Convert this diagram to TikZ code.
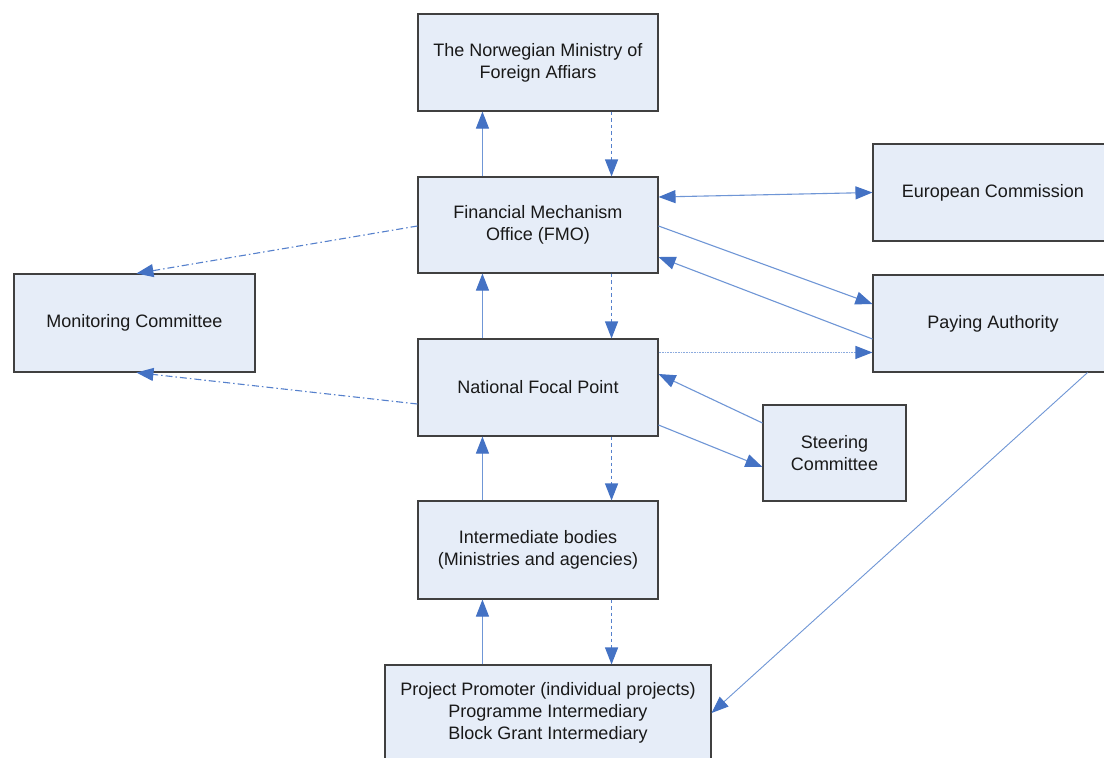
\documentclass[tikz,border=0pt]{standalone}
\usepackage{fontspec}
\setmainfont{Liberation Sans}
\usetikzlibrary{arrows.meta,calc}
\definecolor{boxfill}{HTML}{E6EDF8}
\definecolor{boxdraw}{HTML}{404040}
\definecolor{lineblue}{HTML}{6F96D6}
\definecolor{dashblue}{HTML}{5580CC}
\definecolor{headblue}{HTML}{4472C4}
\tikzset{
  orgbox/.style={draw=boxdraw, line width=1.1pt, fill=boxfill, align=center,
    font=\fontsize{18}{22}\selectfont, text=black!90, inner sep=0pt},
  conn/.style={draw=lineblue, line width=1.1pt,
    -{Triangle[length=17pt,width=13pt,color=headblue]}},
  biconn/.style={draw=lineblue, line width=1.1pt,
    {Triangle[length=17pt,width=13pt,color=headblue]}-{Triangle[length=17pt,width=13pt,color=headblue]}},
  dashconn/.style={conn, draw=dashblue, dash pattern=on 3.5pt off 3pt},
  dashdotconn/.style={conn, draw=dashblue, dash pattern=on 7pt off 3pt on 1.5pt off 3pt},
  dotconn/.style={conn, draw=lineblue!80, dash pattern=on 1pt off 0.6pt},
}
\begin{document}
\begin{tikzpicture}[x=1pt,y=-1pt]
\clip (0,0) rectangle (1104,758);
\fill[white] (0,0) rectangle (1104,758);
\node[orgbox, minimum width=240pt, minimum height=97pt] (nor) at (538,62.5) {The Norwegian Ministry of\\Foreign Affiars};
\node[orgbox, minimum width=240pt, minimum height=96pt] (fmo) at (538,225) {Financial Mechanism\\Office (FMO)};
\node[orgbox, minimum width=240pt, minimum height=97pt] (nfp) at (538,387.5) {National Focal Point};
\node[orgbox, minimum width=240pt, minimum height=98pt] (inter) at (538,550) {Intermediate bodies\\(Ministries and agencies)};
\node[orgbox, minimum width=326pt, minimum height=96pt] (pp) at (548,713) {Project Promoter (individual projects)\\Programme Intermediary\\Block Grant Intermediary};
\node[orgbox, minimum width=241pt, minimum height=98pt] (mon) at (134.5,323) {Monitoring Committee};
\node[orgbox, minimum width=240pt, minimum height=97pt] (ec) at (993,192.5) {European Commission};
\node[orgbox, minimum width=240pt, minimum height=97pt] (pa) at (993,323.5) {Paying Authority};
\node[orgbox, minimum width=143pt, minimum height=96pt] (st) at (834.5,453) {Steering\\Committee};

% vertical spine
\draw[conn] ([xshift=65pt]fmo.north west) -- ([xshift=65pt]nor.south west);
\draw[dashconn] ([xshift=-47pt]nor.south east) -- ([xshift=-47pt]fmo.north east);
\draw[conn] ([xshift=65pt]nfp.north west) -- ([xshift=65pt]fmo.south west);
\draw[dashconn] ([xshift=-47pt]fmo.south east) -- ([xshift=-47pt]nfp.north east);
\draw[conn] ([xshift=65pt]inter.north west) -- ([xshift=65pt]nfp.south west);
\draw[dashconn] ([xshift=-47pt]nfp.south east) -- ([xshift=-47pt]inter.north east);
\draw[conn] ([xshift=98pt]pp.north west) -- ([xshift=65pt]inter.south west);
\draw[dashconn] ([xshift=-47pt]inter.south east) -- ([xshift=-100pt]pp.north east);

% right side
\draw[biconn] ([yshift=28pt]fmo.east) -- (ec.west);
\draw[conn] ([yshift=-1pt]fmo.east) -- ([yshift=19.5pt]pa.west);
\draw[conn] ([yshift=-15.5pt]pa.west) -- ([yshift=-32pt]fmo.east);
\draw[dotconn] ([yshift=-14pt]nfp.north east) -- ([yshift=-78pt]pa.north west);
\draw[conn] ([yshift=30pt]st.west) -- ([yshift=13.5pt]nfp.east);
\draw[conn] ([yshift=-37.5pt]nfp.east) -- ([yshift=-14pt]st.west);
\draw[conn, line width=0.9pt] ([xshift=-26pt]pa.south east) -- (pp.east);

% left side
\draw[dashdotconn] ([yshift=-1pt]fmo.west) -- ([xshift=123pt]mon.north west);
\draw[dashdotconn] ([yshift=-16.5pt]nfp.west) -- ([xshift=123pt]mon.south west);
\end{tikzpicture}
\end{document}
